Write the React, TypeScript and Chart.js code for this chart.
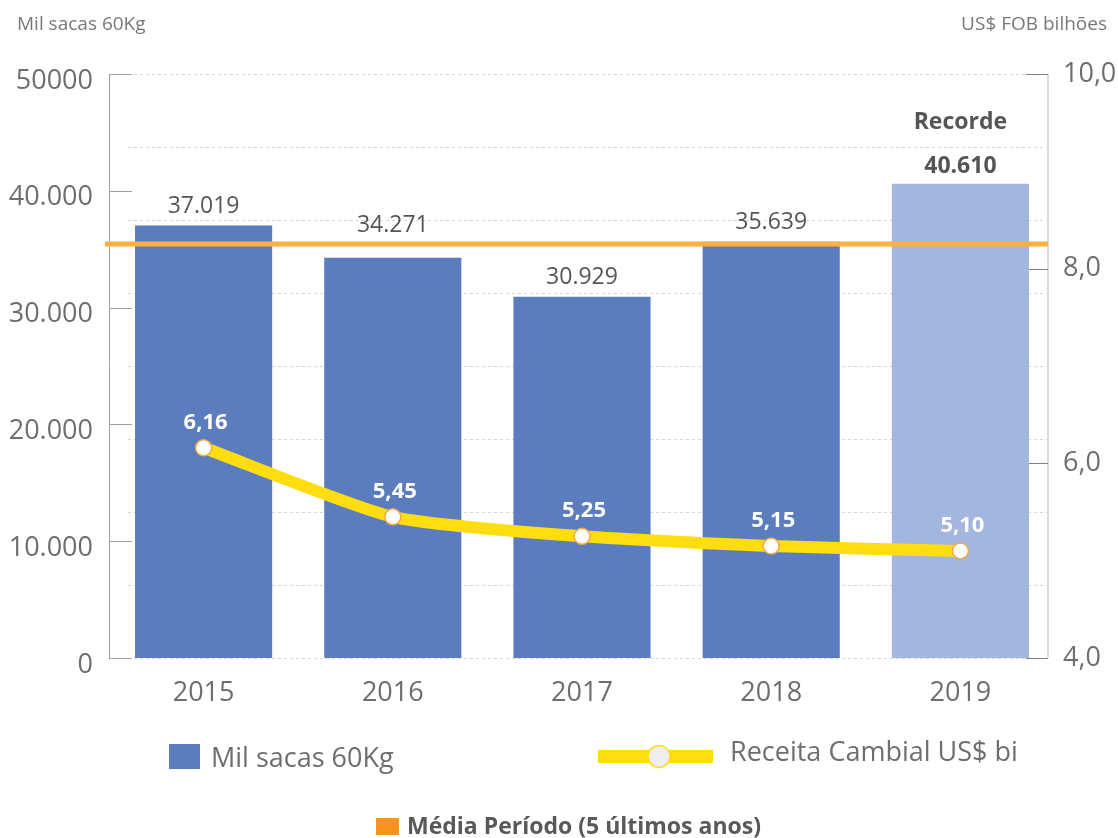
import React, { useEffect, useRef } from "react";
import { Chart, registerables } from "chart.js";

Chart.register(...registerables);

const years = ["2015", "2016", "2017", "2018", "2019"];
const sacas = [37019, 34271, 30929, 35639, 40610];
const receita = [6.16, 5.45, 5.25, 5.15, 5.1];
const mediaPeriodo = 35450;
const barColors = ["#5B7DBE", "#5B7DBE", "#5B7DBE", "#5B7DBE", "#A3B6DF"];
const leftTickValues = [0, 10000, 20000, 30000, 40000, 50000];
const rightTickValues = [4, 6, 8, 10];
const recordLabel = "Recorde";

const FONT = "'Open Sans', sans-serif";
const RIGHT_AXIS_INSET = 7;

const fmtThousands = (n: number) =>
  String(Math.round(n)).replace(/\B(?=(\d{3})+(?!\d))/g, ".");
const fmtDec = (v: number, d: number) => v.toFixed(d).replace(".", ",");

const decorPlugin = {
  id: "decor",
  beforeDatasetsDraw(chart: any) {
    const { ctx, chartArea, scales } = chart;
    const y = scales.y;
    const y1 = scales.y1;
    const axisX = chartArea.right - RIGHT_AXIS_INSET;
    ctx.save();
    // dashed grid lines (8 intervals)
    ctx.strokeStyle = "#D6D6D6";
    ctx.lineWidth = 1;
    ctx.setLineDash([3, 3]);
    for (let i = 0; i <= 8; i++) {
      const v = (50000 * i) / 8;
      const py = Math.round(y.getPixelForValue(v)) + 0.5;
      ctx.beginPath();
      ctx.moveTo(chartArea.left + 19, py);
      ctx.lineTo(axisX - 1, py);
      ctx.stroke();
    }
    ctx.setLineDash([]);
    // left inward ticks
    ctx.strokeStyle = "#A0A0A0";
    leftTickValues.forEach((v) => {
      const py = Math.round(y.getPixelForValue(v)) + 0.5;
      ctx.beginPath();
      ctx.moveTo(chartArea.left, py);
      ctx.lineTo(chartArea.left + 23, py);
      ctx.stroke();
    });
    // right axis line
    ctx.strokeStyle = "#CFCFCF";
    ctx.lineWidth = 1.5;
    ctx.beginPath();
    ctx.moveTo(axisX, chartArea.top);
    ctx.lineTo(axisX, chartArea.bottom);
    ctx.stroke();
    ctx.lineWidth = 1;
    ctx.strokeStyle = "#808080";
    rightTickValues.forEach((v) => {
      const py = Math.round(y1.getPixelForValue(v)) + 0.5;
      ctx.beginPath();
      ctx.moveTo(axisX - 22, py);
      ctx.lineTo(axisX, py);
      ctx.stroke();
    });
    ctx.restore();
  },
  afterDatasetsDraw(chart: any) {
    const { ctx, chartArea, scales } = chart;
    const y = scales.y;
    const axisX = chartArea.right - RIGHT_AXIS_INSET;
    ctx.save();
    // mean line
    const my = y.getPixelForValue(mediaPeriodo);
    ctx.strokeStyle = "#FBB040";
    ctx.lineWidth = 5;
    ctx.beginPath();
    ctx.moveTo(chartArea.left - 4, my);
    ctx.lineTo(axisX, my);
    ctx.stroke();

    // bar labels
    const barMeta = chart.getDatasetMeta(0);
    ctx.textAlign = "center";
    ctx.textBaseline = "alphabetic";
    barMeta.data.forEach((el: any, i: number) => {
      const last = i === sacas.length - 1;
      ctx.fillStyle = "#555555";
      ctx.font = (last ? "bold " : "") + "23px " + FONT;
      let by = el.y - (last ? 11 : 13);
      const collides = by - 18 < my + 3 && by + 5 > my - 3;
      if (!last && collides) by = Math.min(by, my - 12);
      ctx.fillText(fmtThousands(sacas[i]), el.x, by);
      if (last) {
        ctx.fillText(recordLabel, el.x, el.y - 55);
      }
    });
    // line labels
    const lineMeta = chart.getDatasetMeta(1);
    ctx.fillStyle = "#FFFFFF";
    ctx.font = "bold 22px " + FONT;
    lineMeta.data.forEach((el: any, i: number) => {
      ctx.fillText(fmtDec(receita[i], 2), el.x + 2, el.y - 19);
    });
    ctx.restore();
  },
  afterDraw(chart: any) {
    const { ctx } = chart;
    ctx.save();
    ctx.textBaseline = "alphabetic";
    // top titles
    ctx.fillStyle = "#77787B";
    ctx.font = "19px " + FONT;
    ctx.textAlign = "left";
    ctx.fillText("Mil sacas 60Kg", 17, 30);
    ctx.textAlign = "right";
    ctx.fillText("US$ FOB bilhões", 1107, 30);

    // legend
    ctx.textAlign = "left";
    ctx.fillStyle = "#5B7DBE";
    ctx.fillRect(169, 744, 31, 25);
    ctx.fillStyle = "#6D6E71";
    ctx.font = "27px " + FONT;
    ctx.fillText("Mil sacas 60Kg", 211, 767);

    ctx.fillStyle = "#FFDD11";
    ctx.fillRect(598, 750, 115, 13);
    ctx.beginPath();
    ctx.arc(659, 756.5, 11, 0, Math.PI * 2);
    ctx.fillStyle = "#EEEEEE";
    ctx.fill();
    ctx.strokeStyle = "#FFDD11";
    ctx.lineWidth = 1.5;
    ctx.stroke();
    ctx.fillStyle = "#6D6E71";
    ctx.fillText("Receita Cambial US$ bi", 730, 761);

    ctx.fillStyle = "#F7941D";
    ctx.fillRect(376, 818, 23, 17);
    ctx.fillStyle = "#58595B";
    ctx.font = "bold 23px " + FONT;
    ctx.fillText("Média Período (5 últimos anos)", 407, 834);
    ctx.restore();
  },
};

export default function App() {
  const ref = useRef<HTMLCanvasElement | null>(null);
  useEffect(() => {
    if (!ref.current) return;
    const chart = new Chart(ref.current, {
      type: "bar",
      data: {
        labels: years,
        datasets: [
          {
            type: "bar",
            label: "Mil sacas 60Kg",
            data: sacas,
            backgroundColor: barColors,
            yAxisID: "y",
            order: 2,
            categoryPercentage: 1,
            barPercentage: 0.725,
          } as any,
          {
            type: "line",
            label: "Receita Cambial US$ bi",
            data: receita,
            yAxisID: "y1",
            order: 1,
            borderColor: "#FFDD11",
            borderWidth: 12,
            tension: 0.2,
            pointRadius: 8,
            pointBackgroundColor: "#FFFFFF",
            pointBorderColor: "#F7A540",
            pointBorderWidth: 1.5,
            borderJoinStyle: "round",
          } as any,
        ],
      },
      options: {
        responsive: false,
        animation: false,
        layout: { padding: { top: 74, bottom: 120, left: 0, right: 0 } },
        plugins: {
          legend: { display: false },
          tooltip: { enabled: false },
          title: { display: false },
        },
        scales: {
          x: {
            grid: { display: false, drawTicks: false },
            border: { display: false },
            ticks: {
              color: "#6D6E71",
              font: { family: FONT, size: 27 },
              padding: 19,
            },
            afterFit: (s: any) => {
              s.height = 60;
            },
          },
          y: {
            position: "left",
            min: 0,
            max: 50000,
            afterBuildTicks: (s: any) => {
              s.ticks = leftTickValues.map((v) => ({ value: v }));
            },
            grid: { display: false, drawTicks: false },
            border: { display: true, color: "#A0A0A0", width: 1 },
            ticks: {
              color: "#6D6E71",
              font: { family: FONT, size: 27 },
              padding: 16,
              labelOffset: 7,
              callback: (v: any) =>
                v === 50000 ? "50000" : fmtThousands(Number(v)),
            },
            afterFit: (s: any) => {
              s.width = 109;
            },
          },
          y1: {
            position: "right",
            min: 4,
            max: 10,
            afterBuildTicks: (s: any) => {
              s.ticks = rightTickValues.map((v) => ({ value: v }));
            },
            grid: { display: false, drawTicks: false },
            border: { display: false },
            ticks: {
              color: "#6D6E71",
              font: { family: FONT, size: 27 },
              padding: 8,
              labelOffset: 0,
              callback: (v: any) => fmtDec(Number(v), 1),
            },
            afterFit: (s: any) => {
              s.width = 63;
            },
          },
        },
      },
      plugins: [decorPlugin],
    } as any);
    return () => chart.destroy();
  }, []);
  return (
    <div style={{ position: "absolute", left: 0, top: 0, width: 1118, height: 838, background: "#fff" }}>
      <canvas ref={ref} width={1118} height={838} style={{ display: "block" }} />
    </div>
  );
}
